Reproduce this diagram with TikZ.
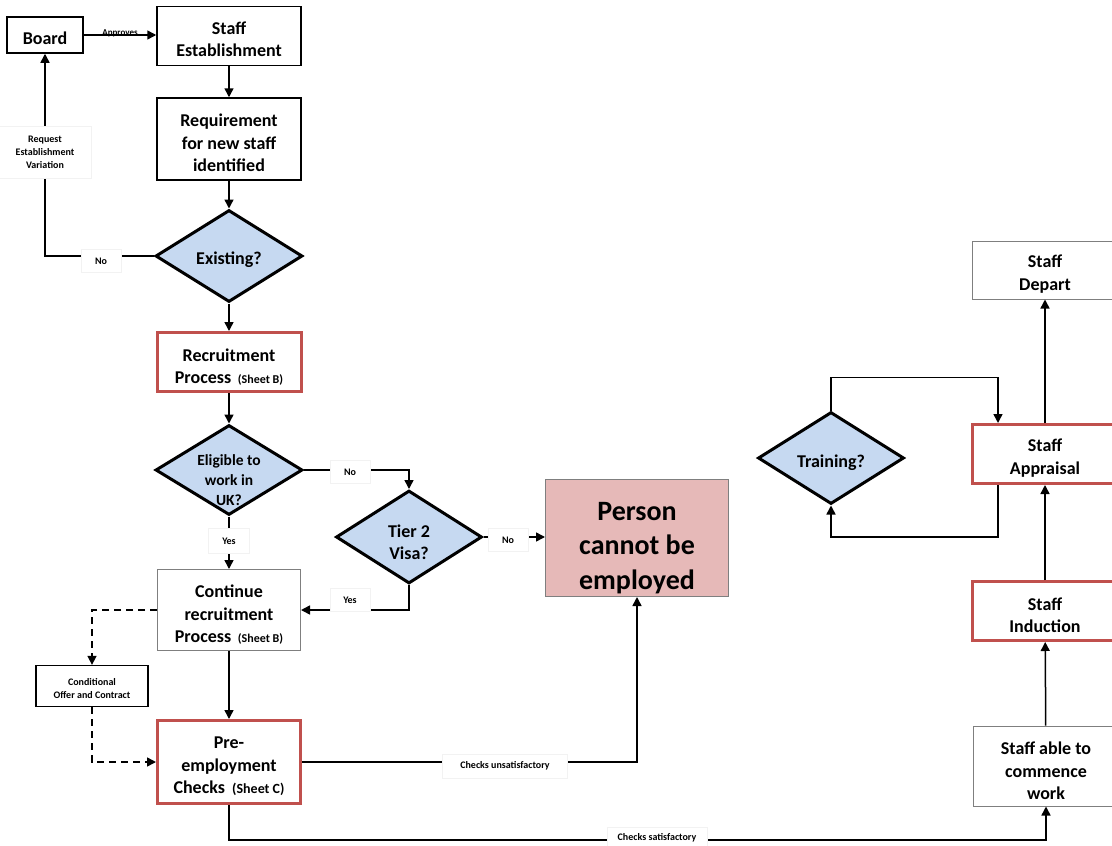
\documentclass[tikz,border=0pt]{standalone}
\usepackage{fontspec}
\setmainfont{Carlito}
\usetikzlibrary{shapes.geometric,arrows.meta}
\definecolor{redb}{HTML}{C0504D}
\definecolor{pinkf}{HTML}{E6B9B8}
\definecolor{bluef}{HTML}{C6D9F1}
\definecolor{grayb}{HTML}{7F7F7F}
\definecolor{lblb}{HTML}{F2F2F2}
\newcommand{\mainf}{\fontsize{18}{22.5}\selectfont\bfseries}
\newcommand{\smallf}{\fontsize{10}{13}\selectfont\bfseries}
\begin{document}
\begin{tikzpicture}[x=1pt,y=-1pt,
  box/.style={rectangle, fill=white, inner sep=0pt},
  blk/.style={box, draw=black, line width=1.5pt},
  redbox/.style={box, draw=redb, line width=3pt},
  graybox/.style={box, draw=grayb, line width=1pt},
  dia/.style={diamond, draw=black, line width=3pt, fill=bluef, inner sep=0pt, aspect=1.6},
  txt/.style={inner sep=0pt, align=center, font=\mainf},
  lbl/.style={rectangle, fill=white, draw=lblb, line width=0.5pt, inner sep=0pt, align=center, font=\smallf},
  conn/.style={draw=black, line width=1.5pt},
  arr/.style={conn, -{Triangle[length=9pt,width=9pt]}},
  darr/.style={arr, dashed, dash pattern=on 7pt off 5pt}
]
\useasboundingbox (0,0) rectangle (1112,846);
\clip (0,0) rectangle (1112,846);
\fill[white] (0,0) rectangle (1112,846);

% shapes
\node[blk, minimum width=76pt, minimum height=36pt] (board) at (45,35) {};
\node[blk, minimum width=144pt, minimum height=59pt] (se) at (229,36) {};
\node[blk, minimum width=144pt, minimum height=82pt] (req) at (229,139) {};
\node[dia, minimum width=147pt, minimum height=92pt] (exist) at (229,256) {};
\node[redbox, minimum width=144pt, minimum height=59pt] (rec) at (229,362) {};
\node[dia, minimum width=147pt, minimum height=90pt] (elig) at (229,470) {};
\node[dia, minimum width=146pt, minimum height=93pt] (tier) at (409,537) {};
\node[box, draw=grayb, line width=1pt, fill=pinkf, minimum width=183pt, minimum height=117pt] (person) at (637,538) {};
\node[graybox, minimum width=143pt, minimum height=81pt] (cont) at (229,610) {};
\node[blk, line width=1.3pt, minimum width=112pt, minimum height=41pt] (cond) at (92,686) {};
\node[redbox, minimum width=143pt, minimum height=83pt] (pre) at (229,762) {};
\node[graybox, minimum width=146pt, minimum height=80pt] (able) at (1046,766) {};
\node[redbox, minimum width=146pt, minimum height=59pt] (ind) at (1045,611) {};
\node[redbox, minimum width=146pt, minimum height=59pt] (appr) at (1045,454) {};
\node[graybox, minimum width=146pt, minimum height=58pt] (dep) at (1045,270) {};
\node[dia, minimum width=146pt, minimum height=92pt] (train) at (831,458) {};

% texts
\node[txt] (board-t) at ([yshift=-3pt]board.center) {Board};
\node[txt] (se-t) at ([yshift=-3pt]se.center) {Staff\\Establishment};
\node[txt] (req-t) at ([yshift=-4pt]req.center) {Requirement\\for new staff\\identified};
\node[txt] (exist-t) at ([yshift=-4pt]exist.center) {Existing?};
\node[txt] (rec-t) at ([yshift=-5pt]rec.center) {Recruitment\\Process {\fontsize{12}{12}\selectfont\ (Sheet B)}};
\node[txt, font=\fontsize{15.5}{20}\selectfont\bfseries] (elig-t) at ([yshift=-10pt]elig.center) {Eligible to\\work in\\UK?};
\node[txt, font=\fontsize{18}{21.5}\selectfont\bfseries] (tier-t) at ([yshift=-5pt]tier.center) {Tier 2\\Visa?};
\node[txt, font=\fontsize{28}{34.5}\selectfont\bfseries] (person-t) at ([yshift=-10pt]person.center) {Person\\cannot be\\employed};
\node[txt] (cont-t) at ([yshift=-5pt]cont.center) {Continue\\recruitment\\Process {\fontsize{12}{12}\selectfont\ (Sheet B)}};
\node[txt, font=\smallf] (cond-t) at ([yshift=-2.5pt]cond.center) {Conditional\\Offer and Contract};
\node[txt] (pre-t) at ([yshift=-4.5pt]pre.center) {Pre-\\employment\\Checks {\fontsize{14}{14}\selectfont\ (Sheet C)}};
\node[txt] (able-t) at ([yshift=-5pt]able.center) {Staff able to\\commence\\work};
\node[txt] (ind-t) at ([yshift=-4pt]ind.center) {Staff\\Induction};
\node[txt] (appr-t) at ([yshift=-4pt]appr.center) {Staff\\Appraisal};
\node[txt] (dep-t) at ([yshift=-4pt]dep.center) {Staff\\Depart};
\node[txt] (train-t) at ([yshift=-5pt]train.center) {Training?};

% connectors
\draw[arr] (board.east) -- (board.east -| se.west) node[midway, above=-6pt, font=\fontsize{9}{9}\selectfont\bfseries] (appv) {Approves};
\draw[arr] (se) -- (req);
\draw[arr] (req) -- (exist);
\draw[arr] (exist.west) -| (board.south);
\draw[arr] (exist) -- (rec);
\draw[arr] (rec) -- (elig);
\draw[arr] (elig.east) -| (tier.north);
\draw[arr] (tier.east) -- (tier.east -| person.west);
\draw[arr] (elig) -- (cont);
\draw[arr] (tier.south) |- (cont.east);
\draw[darr] (cont.west) -| (cond.north);
\draw[darr] (cond.south) |- (pre.west);
\draw[arr] (cont) -- (pre);
\draw[arr] (pre.east) -| (person.south);
\coordinate (satturn) at ([yshift=-35pt]pre.south);
\draw[arr] (pre.south) -- (satturn) -| (able.south);
\draw[arr] (able) -- (ind);
\draw[arr] (ind) -- (appr);
\draw[arr] (appr) -- (dep);
\coordinate (ltop) at ([yshift=33pt]train.north);
\coordinate (apin) at ([xshift=-47pt]appr.north);
\coordinate (apout) at ([xshift=-47pt]appr.south);
\coordinate (lbot) at ([yshift=-52pt]apout);
\draw[arr] (train.north) -- (ltop) -| (apin);
\draw[arr] (apout) -- (lbot) -| (train.south);

% labels
\node[lbl, minimum width=40pt, minimum height=23pt] (no1) at (101,261) {No};
\node[lbl, minimum width=92pt, minimum height=52pt] (reqv) at (45,152) {Request\\Establishment\\Variation};
\node[lbl, minimum width=40pt, minimum height=23pt] (no2) at (350,472) {No};
\node[lbl, minimum width=41pt, minimum height=25pt] (yes1) at (229,541) {Yes};
\node[lbl, minimum width=40pt, minimum height=23pt] (no3) at (508,540) {No};
\node[lbl, minimum width=40pt, minimum height=23pt] (yes2) at (350,600) {Yes};
\node[lbl, minimum width=125pt, minimum height=24pt] (unsat) at (505,766) {Checks unsatisfactory};
\node[lbl, minimum width=100pt, minimum height=22pt] (sat) at (657,838) {Checks satisfactory};
\end{tikzpicture}
\end{document}
